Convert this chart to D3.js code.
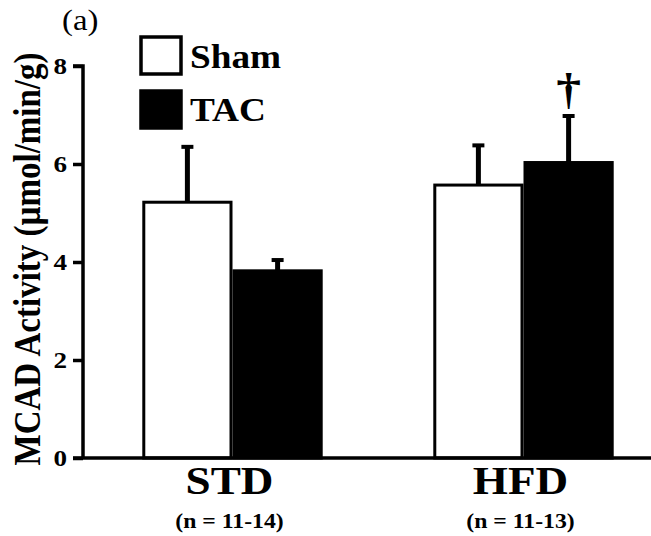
<!DOCTYPE html>
<meta charset="utf-8">
<style>
body { margin: 0; background: #fff; }
text { font-family: "Liberation Serif", "Times New Roman", serif; fill: #000; }
.tick text { font-size: 24px; font-weight: bold; }
</style>
<body>
<svg width="651" height="536"></svg>
</body>
<script src="https://cdn.jsdelivr.net/npm/d3@7"></script>
<script>

var diets = ["STD", "HFD"],
    nLabels = ["(n = 11-14)", "(n = 11-13)"],
    groups = ["Sham", "TAC"],
    means = [[5.22, 3.82], [5.57, 6.03]],   // [diet][group]
    errs = [[1.13, 0.22], [0.81, 0.95]],
    yTicks = [0, 2, 4, 6, 8];

var svg = d3.select("svg");
var x0 = 83, y0 = 458;
var sx = 1.13;   // the original figure is a bit wider than tall

var y = d3.scaleLinear().domain([0, 8]).range([y0, 66]);

var x = d3.scaleBand()
    .domain(diets)
    .range([x0 + 4, 669])
    .paddingInner(0.38)
    .paddingOuter(0.19);

var xs = d3.scaleBand().domain(groups).range([0, x.bandwidth()]);

var fill = d3.scaleOrdinal().domain(groups).range(["#fff", "#000"]);

// text placed at (px,py), stretched horizontally
function label(px, py, str, size, bold, anchor) {
  return svg.append("text")
      .attr("transform", "translate(" + px + "," + py + ") scale(" + sx + ",1)")
      .attr("text-anchor", anchor || "start")
      .attr("font-size", size)
      .attr("font-weight", bold ? "bold" : "normal")
      .text(str);
}

// bars
var gBars = svg.selectAll(".diet")
  .data(diets)
  .enter().append("g")
    .attr("transform", function(d) { return "translate(" + x(d) + ",0)"; });

var bar = gBars.selectAll(".bar")
  .data(function(d, i) {
    return groups.map(function(g, j) { return {g: g, v: means[i][j], e: errs[i][j]}; });
  })
  .enter().append("g");

// error bars (upper only)
bar.append("line")
    .attr("x1", function(d) { return xs(d.g) + xs.bandwidth() / 2; })
    .attr("x2", function(d) { return xs(d.g) + xs.bandwidth() / 2; })
    .attr("y1", function(d) { return y(d.v); })
    .attr("y2", function(d) { return y(d.v + d.e); })
    .attr("stroke", "#000")
    .attr("stroke-width", 5);

bar.append("line")
    .attr("x1", function(d) { return xs(d.g) + xs.bandwidth() / 2 - 6; })
    .attr("x2", function(d) { return xs(d.g) + xs.bandwidth() / 2 + 6; })
    .attr("y1", function(d) { return y(d.v + d.e); })
    .attr("y2", function(d) { return y(d.v + d.e); })
    .attr("stroke", "#000")
    .attr("stroke-width", 4);

bar.append("rect")
    .attr("x", function(d) { return xs(d.g) + 1.5; })
    .attr("y", function(d) { return y(d.v); })
    .attr("width", xs.bandwidth() - 3)
    .attr("height", function(d) { return y0 - y(d.v); })
    .attr("fill", function(d) { return fill(d.g); })
    .attr("stroke", "#000")
    .attr("stroke-width", 3);

// dagger over HFD TAC
var hfdTac = x("HFD") + xs("TAC") + xs.bandwidth() / 2;
label(hfdTac, y(means[1][1] + errs[1][1]) - 12, "\u2020", 44, true, "middle");

// y axis
var yAxis = svg.append("g")
    .attr("transform", "translate(" + x0 + ",0)")
    .call(d3.axisLeft(y).tickValues(yTicks).tickSize(10).tickPadding(6));
yAxis.select(".domain").attr("stroke-width", 3.5).attr("d", "M-10," + y(8) + "H0V" + y0);
yAxis.selectAll(".tick line").attr("stroke-width", 3.5);
yAxis.selectAll(".tick text")
    .attr("transform", "translate(-16,0) scale(" + sx + ",1)")
    .attr("x", 0);

// x baseline
svg.append("line")
    .attr("x1", x0 - 10).attr("x2", 651)
    .attr("y1", y0).attr("y2", y0)
    .attr("stroke", "#000")
    .attr("stroke-width", 3.5);

// category labels
diets.forEach(function(d, i) {
  var cx = x(d) + x.bandwidth() / 2 - 3;
  label(cx, 494, d, 40, true, "middle");
  label(cx, 528, nLabels[i], 21, true, "middle");
});

// y title
svg.append("text")
    .attr("transform", "translate(40,259) rotate(-90) scale(1," + sx + ")")
    .attr("text-anchor", "middle")
    .attr("font-size", 33)
    .attr("font-weight", "bold")
    .text("MCAD Activity (\u00b5mol/min/g)");

// panel label
label(62, 30, "(a)", 29, false);

// legend
groups.forEach(function(g, i) {
  svg.append("rect")
      .attr("x", 141).attr("y", 37 + i * 54)
      .attr("width", 40).attr("height", 37)
      .attr("fill", fill(g))
      .attr("stroke", "#000")
      .attr("stroke-width", 3.5);
  label(190, 68 + i * 53, g, 33, true);
});

</script>
